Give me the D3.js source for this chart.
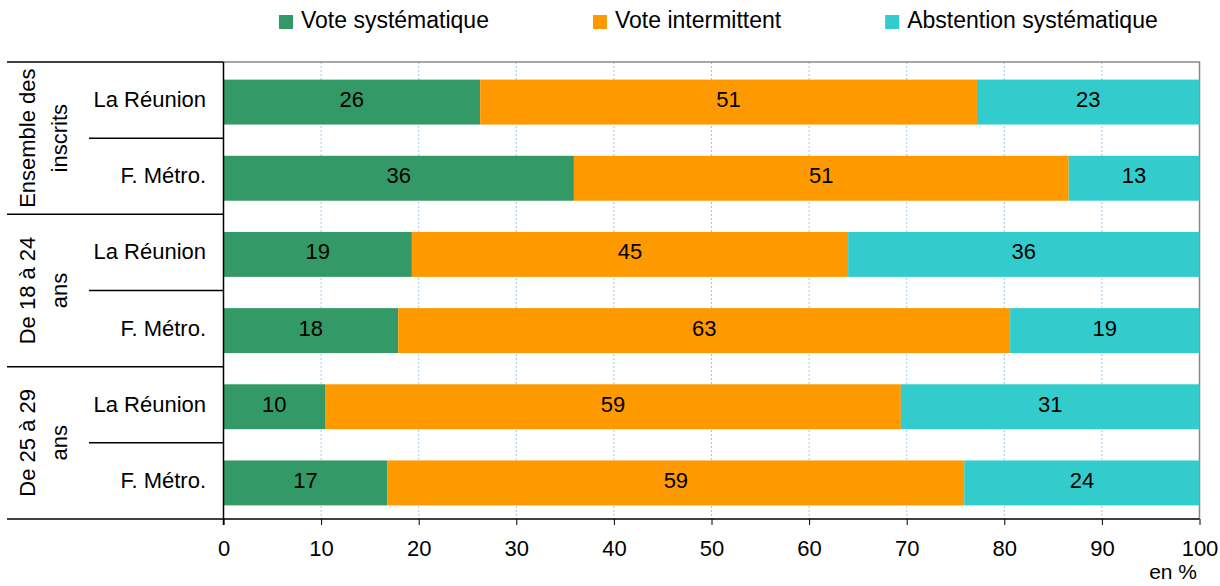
<!DOCTYPE html>
<html>
<head>
<meta charset="utf-8">
<script src="https://cdn.jsdelivr.net/npm/d3@7"></script>
<style>
  body { margin: 0; background: #fff; }
  text { font-family: "Liberation Sans", Arial, sans-serif; fill: #000; }
</style>
</head>
<body>
<div id="chart"></div>
<script>
// Data
var groupLabels = [["Ensemble des", "inscrits"], ["De 18 à 24", "ans"], ["De 25 à 29", "ans"]];
var rowLabels = ["La Réunion", "F. Métro.", "La Réunion", "F. Métro.", "La Réunion", "F. Métro."];
var seriesNames = ["Vote systématique", "Vote intermittent", "Abstention systématique"];
var voteSys = [26.3, 35.9, 19.3, 17.9, 10.4, 16.8];
var voteInt = [50.9, 50.7, 44.7, 62.7, 59.0, 59.1];
var abstention = [22.8, 13.4, 36.0, 19.4, 30.6, 24.1];
var xTicks = [0, 10, 20, 30, 40, 50, 60, 70, 80, 90, 100];
var colors = ["#339966", "#FF9900", "#33CCCC"];

var svgWidth = 1220;
var svgHeight = 586;
var plot = { left: 223.5, right: 1199.5, top: 62, bottom: 519 };
var fontSize = 22;

var svg = d3.select("#chart")
  .append("svg")
  .attr("width", svgWidth)
  .attr("height", svgHeight);

// scales
var x = d3.scaleLinear().domain([0, 100]).range([plot.left, plot.right]);
var y = d3.scaleBand()
  .domain(d3.range(rowLabels.length))
  .range([plot.top, plot.bottom])
  .paddingInner(0.41)
  .paddingOuter(0.205);

// stacked data
var rows = rowLabels.map(function(label, i) {
  return { idx: i, label: label, s0: voteSys[i], s1: voteInt[i], s2: abstention[i] };
});
var stack = d3.stack().keys(["s0", "s1", "s2"]);
var stacked = stack(rows);

// gridlines
svg.append("g")
  .selectAll("line")
  .data(xTicks.filter(function(t) { return t > 0 && t < 100; }))
  .enter()
  .append("line")
  .attr("x1", d => x(d)).attr("x2", d => x(d))
  .attr("y1", plot.top).attr("y2", plot.bottom)
  .attr("stroke", "#9cc8f0")
  .attr("stroke-width", 1)
  .attr("stroke-dasharray", "2,2");

// plot frame (grey top and right)
svg.append("path")
  .attr("d", `M${plot.left},${plot.top}H${plot.right}V${plot.bottom}`)
  .attr("fill", "none")
  .attr("stroke", "#888")
  .attr("stroke-width", 1.5);

// bars
var layers = svg.append("g")
  .selectAll("g")
  .data(stacked)
  .enter()
  .append("g")
  .attr("fill", (d, i) => colors[i]);

layers.selectAll("rect")
  .data(d => d)
  .enter()
  .append("rect")
  .attr("x", d => x(d[0]))
  .attr("width", d => x(d[1]) - x(d[0]))
  .attr("y", d => y(d.data.idx) + 2)
  .attr("height", y.bandwidth());

// value labels
layers.selectAll("text")
  .data(d => d)
  .enter()
  .append("text")
  .attr("x", d => (x(d[0]) + x(d[1])) / 2)
  .attr("y", d => y(d.data.idx) + 2 + y.bandwidth() / 2 + 5)
  .attr("text-anchor", "middle")
  .style("font-size", fontSize + "px")
  .text(d => Math.round(d[1] - d[0]));

// bottom axis
var bottomAxis = d3.axisBottom(x).tickValues(xTicks).tickSize(6).tickPadding(15);
var axisG = svg.append("g")
  .attr("transform", `translate(0, ${plot.bottom})`)
  .call(bottomAxis);
axisG.select(".domain").remove();
axisG.selectAll(".tick line").attr("stroke", "#000");
axisG.selectAll(".tick text")
  .style("font-size", fontSize + "px")
  .style("font-family", "Liberation Sans, Arial, sans-serif")
  .attr("fill", "#000");

// left axis line and category lines
var step = y.step();
svg.append("line")
  .attr("x1", plot.left).attr("x2", plot.left)
  .attr("y1", plot.top).attr("y2", plot.bottom + 6)
  .attr("stroke", "#000").attr("stroke-width", 1.5);

svg.append("line")
  .attr("x1", 7).attr("x2", plot.right)
  .attr("y1", plot.bottom).attr("y2", plot.bottom)
  .attr("stroke", "#000").attr("stroke-width", 1.5);

var boundaries = d3.range(rowLabels.length);
svg.append("g")
  .selectAll("line")
  .data(boundaries)
  .enter()
  .append("line")
  .attr("x1", d => d % 2 === 0 ? 7 : 89)
  .attr("x2", plot.left)
  .attr("y1", d => plot.top + d * step)
  .attr("y2", d => plot.top + d * step)
  .attr("stroke", "#000")
  .attr("stroke-width", 1.5);

// row labels
svg.append("g")
  .selectAll("text")
  .data(rows)
  .enter()
  .append("text")
  .attr("x", 206)
  .attr("y", d => plot.top + (d.idx + 0.5) * step + 7)
  .attr("text-anchor", "end")
  .style("font-size", fontSize + "px")
  .text(d => d.label);

// group labels (rotated)
var groupG = svg.append("g")
  .selectAll("text")
  .data(groupLabels)
  .enter()
  .append("text")
  .attr("transform", (d, i) => `translate(35, ${plot.top + (i * 2 + 1) * step}) rotate(-90)`)
  .attr("text-anchor", "middle")
  .style("font-size", fontSize + "px");

groupG.selectAll("tspan")
  .data(d => d)
  .enter()
  .append("tspan")
  .attr("x", 0)
  .attr("y", (d, i) => i * 32)
  .text(d => d);

// "en %"
svg.append("text")
  .attr("x", 1197)
  .attr("y", 579)
  .attr("text-anchor", "end")
  .style("font-size", "21px")
  .text("en %");

// legend
var legend = svg.append("g");
var lx = 279;
seriesNames.forEach(function(name, i) {
  legend.append("rect")
    .attr("x", lx).attr("y", 15)
    .attr("width", 14).attr("height", 14)
    .attr("fill", colors[i]);
  var t = legend.append("text")
    .attr("x", lx + 22)
    .attr("y", 28)
    .style("font-size", "23px")
    .text(name);
  lx += 22 + t.node().getComputedTextLength() + 104;
});
</script>
</body>
</html>
